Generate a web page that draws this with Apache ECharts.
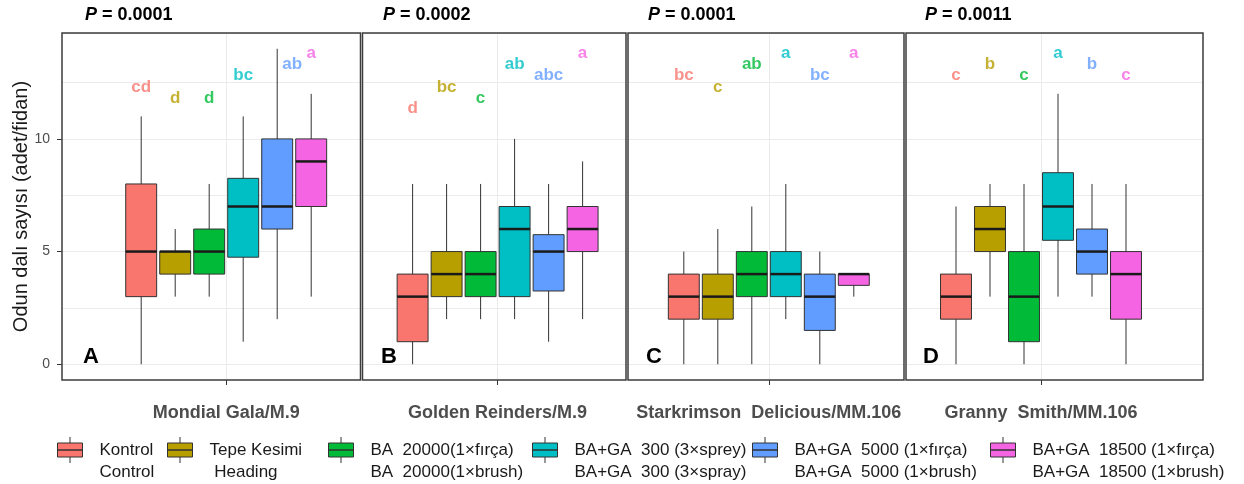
<!DOCTYPE html>
<html lang="tr">
<head>
<meta charset="UTF-8"/>
<script src="https://cdn.jsdelivr.net/npm/echarts@6/dist/echarts.min.js"></script>
<title>Odun dalı sayısı</title>
<style>html,body{margin:0;padding:0;background:#fff;}</style>
</head>
<body>
<div id="main" style="width:1244px;height:484px;"></div>
<script type="text/javascript">
// --- data ---
var cultivars = ['Mondial Gala/M.9', 'Golden Reinders/M.9', 'Starkrimson  Delicious/MM.106', 'Granny  Smith/MM.106'];
var treatTr = ['Kontrol', 'Tepe Kesimi', 'BA  20000(1×fırça)', 'BA+GA  300 (3×sprey)', 'BA+GA  5000 (1×fırça)', 'BA+GA  18500 (1×fırça)'];
var treatEn = ['Control', ' Heading', 'BA  20000(1×brush)', 'BA+GA  300 (3×spray)', 'BA+GA  5000 (1×brush)', 'BA+GA  18500 (1×brush)'];
var palette = ['#F8766D', '#B79F00', '#00BA38', '#00BFC4', '#619CFF', '#F564E3'];

// [min, Q1, median, Q3, max] for each treatment
var boxA = [[0, 3, 5, 8, 11], [3, 4, 5, 5, 6], [3, 4, 5, 6, 8], [1, 4.75, 7, 8.25, 11], [2, 6, 7, 10, 14], [3, 7, 9, 10, 12]];
var boxB = [[0, 1, 3, 4, 8], [2, 3, 4, 5, 8], [2, 3, 4, 5, 8], [2, 3, 6, 7, 10], [1, 3.25, 5, 5.75, 8], [2, 5, 6, 7, 9]];
var boxC = [[0, 2, 3, 4, 5], [0, 2, 3, 4, 6], [0, 3, 4, 5, 7], [2, 3, 4, 5, 8], [0, 1.5, 3, 4, 5], [3, 3.5, 4, 4, 4]];
var boxD = [[0, 2, 3, 4, 7], [3, 5, 6, 7, 8], [0, 1, 3, 5, 8], [3, 5.5, 7, 8.5, 12], [3, 4, 5, 6, 8], [0, 2, 4, 5, 8]];

var lettersA = ['cd', 'd', 'd', 'bc', 'ab', 'a'];
var lettersB = ['d', 'bc', 'c', 'ab', 'abc', 'a'];
var lettersC = ['bc', 'c', 'ab', 'a', 'bc', 'a'];
var lettersD = ['c', 'b', 'c', 'a', 'b', 'c'];
var letterYA = [12.3, 11.8, 11.8, 12.8, 13.3, 13.8];
var letterYB = [11.35, 12.3, 11.8, 13.3, 12.8, 13.8];
var letterYC = [12.8, 12.3, 13.3, 13.8, 12.8, 13.8];
var letterYD = [12.8, 13.3, 12.8, 13.8, 13.3, 12.8];

var pValues = ['0.0001', '0.0002', '0.0001', '0.0011'];
var panelTags = ['A', 'B', 'C', 'D'];
var yTicks = [0, 5, 10];

var boxes = [boxA, boxB, boxC, boxD];
var letters = [lettersA, lettersB, lettersC, lettersD];
var letterY = [letterYA, letterYB, letterYC, letterYD];

// --- layout ---
var FONT = '"Liberation Sans", Arial, sans-serif';
var TOP = 33, BOTTOM = 380;
var YMIN = -0.7, YMAX = 14.7;
var pxPerUnit = (BOTTOM - TOP) / (YMAX - YMIN);
var yZero = BOTTOM + YMIN * pxPerUnit;
var frames = [[62, 360.5], [362.5, 626], [628, 904], [906, 1203]];
var boxCenter = [226.2, 497.6, 768.8, 1041];
var STEP = 34;
var legendLeft = [57, 167, 328, 532, 752, 990];
var keyIcon = 'path://M12.5,0L12.5,6M0,6h25v7h-25zM0,13h25v7h-25zM12.5,20L12.5,26';

function renderBox(params, api) {
    var i = api.value(0);
    var lo = api.coord([i, api.value(1)]);
    var q1 = api.coord([i, api.value(2)]);
    var md = api.coord([i, api.value(3)]);
    var q3 = api.coord([i, api.value(4)]);
    var hi = api.coord([i, api.value(5)]);
    var half = api.size([1, 0])[0] * 0.455;
    return {
        type: 'group',
        children: [
            {type: 'line', shape: {x1: lo[0], y1: lo[1], x2: hi[0], y2: hi[1]}, style: {stroke: '#333', lineWidth: 1}},
            {type: 'rect', shape: {x: q3[0] - half, y: q3[1], width: half * 2, height: Math.max(q1[1] - q3[1], 0.5)},
                style: {fill: api.visual('color'), stroke: '#333', lineWidth: 1}},
            {type: 'line', shape: {x1: md[0] - half, y1: md[1], x2: md[0] + half, y2: md[1]}, style: {stroke: '#1a1a1a', lineWidth: 2.5}}
        ]
    };
}

var grid = [], xAxis = [], yAxis = [], series = [], title = [];

for (var p = 0; p < 4; p++) {
    var fl = frames[p][0], fw = frames[p][1] - frames[p][0];
    var g0 = grid.length;
    // frame
    grid.push({left: fl, top: TOP, width: fw, height: BOTTOM - TOP, show: true, borderColor: '#3d3d3d', borderWidth: 1.5, backgroundColor: 'transparent', z: 3});
    // gridlines
    grid.push({left: fl, top: TOP, width: fw, height: yZero - TOP});
    // boxes
    grid.push({left: boxCenter[p] - 3 * STEP, top: TOP, width: 6 * STEP, height: BOTTOM - TOP});

    xAxis.push({gridIndex: g0, type: 'value', min: 0, max: 1, show: false});
    xAxis.push({gridIndex: g0 + 1, type: 'value', min: 0, max: 1, show: false});
    var xTreat = xAxis.length;
    xAxis.push({gridIndex: g0 + 2, type: 'category', data: treatTr, position: 'top', show: false});
    xAxis.push({
        gridIndex: g0 + 2, type: 'category', data: ['', cultivars[p], ''], boundaryGap: false, position: 'bottom',
        axisLine: {show: false},
        axisTick: {show: true, interval: function (i) { return i === 1; }, length: 5, lineStyle: {color: '#333'}},
        axisLabel: {interval: 0, margin: 24, fontSize: 18, fontWeight: 'bold', color: '#4d4d4d', fontFamily: FONT},
        splitLine: {show: true, interval: function (i) { return i === 1; }, lineStyle: {color: '#ebebeb'}}
    });

    yAxis.push({
        gridIndex: g0, type: 'value', min: 0, max: 1, position: 'left',
        axisLine: {show: false}, axisTick: {show: false}, axisLabel: {show: false}, splitLine: {show: false},
        name: p === 0 ? 'Odun dalı sayısı (adet/fidan)' : '', nameLocation: 'middle', nameGap: 31,
        nameTextStyle: {fontSize: 20, color: '#1a1a1a', fontFamily: FONT}
    });
    yAxis.push({
        gridIndex: g0 + 1, type: 'value', min: 0, max: YMAX, interval: 2.5, position: 'right',
        axisLine: {show: false}, axisTick: {show: false}, axisLabel: {show: false},
        splitLine: {show: true, lineStyle: {color: '#ebebeb', width: 1}}
    });
    if (p === 0) {
        yAxis.push({
            gridIndex: g0 + 1, type: 'value', min: 0, max: YMAX, interval: 5, position: 'left',
            axisLine: {show: false},
            axisTick: {show: true, length: 5, lineStyle: {color: '#333'}, customValues: yTicks},
            axisLabel: {color: '#4d4d4d', fontSize: 14, margin: 12, fontFamily: FONT, customValues: yTicks,
                formatter: function (v) { return yTicks.indexOf(v) >= 0 ? String(v) : ''; }},
            splitLine: {show: false}
        });
    }
    var yBox = yAxis.length;
    yAxis.push({gridIndex: g0 + 2, type: 'value', min: YMIN, max: YMAX, show: false});

    for (var i = 0; i < 6; i++) {
        series.push({
            type: 'custom', name: treatTr[i], xAxisIndex: xTreat, yAxisIndex: yBox,
            renderItem: renderBox, itemStyle: {color: palette[i]},
            encode: {x: 0, y: [1, 2, 3, 4, 5]},
            data: [[i].concat(boxes[p][i])], z: 2
        });
    }
    series.push({
        type: 'scatter', xAxisIndex: xTreat, yAxisIndex: yBox, symbolSize: 0, silent: true, z: 4,
        data: letters[p].map(function (t, i) {
            var item = {name: t, value: [i, letterY[p][i]], label: {color: palette[i]}};
            if (p === 0 && i === 4) item.label.offset = [15, 0];
            return item;
        }),
        label: {show: true, position: 'inside', formatter: '{b}', fontSize: 17, fontWeight: 'bold', fontFamily: FONT}
    });

    title.push({
        text: '{i|P} = ' + pValues[p], left: [85, 383, 648, 925][p], top: 6, padding: 0,
        textStyle: {fontSize: 18, fontWeight: 'bold', color: '#000', fontFamily: FONT,
            rich: {i: {fontSize: 18, fontWeight: 'bold', fontStyle: 'italic', color: '#000', fontFamily: FONT}}}
    });
    title.push({
        text: panelTags[p], left: [83, 381, 646, 923][p], top: 346, padding: 0,
        textStyle: {fontSize: 22, fontWeight: 'bold', color: '#000', fontFamily: FONT}
    });
}

var legend = treatTr.map(function (name, i) {
    return {
        data: [name], left: legendLeft[i], top: 417, padding: 0, orient: 'horizontal',
        icon: keyIcon, itemWidth: 25, itemHeight: 26, selectedMode: false,
        itemStyle: {borderColor: '#333', borderWidth: 1},
        formatter: function () { return ' \n' + treatTr[i] + '\n' + treatEn[i]; },
        textStyle: {fontSize: 17, lineHeight: 22, color: '#1a1a1a', fontFamily: FONT, padding: [0, 0, 0, 12]}
    };
});

var myChart = echarts.init(document.getElementById('main'));
myChart.setOption({
    animation: false,
    backgroundColor: '#fff',
    title: title,
    legend: legend,
    grid: grid,
    xAxis: xAxis,
    yAxis: yAxis,
    series: series
});
</script>
</body>
</html>
